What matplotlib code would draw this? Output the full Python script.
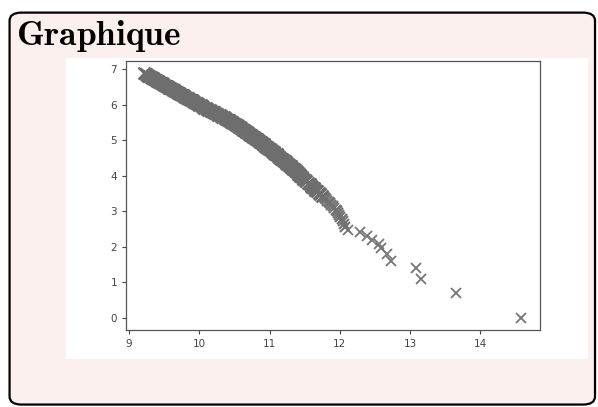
import matplotlib
matplotlib.use("Agg")
import matplotlib.pyplot as plt
from matplotlib.patches import FancyBboxPatch, Rectangle

plt.rcParams['mathtext.fontset'] = 'cm'

# values (y looks like ln(rank), x the sorted value)
x_tail = [14.58, 13.66, 13.15, 13.08, 12.73, 12.67, 12.58, 12.56, 12.46, 12.39, 12.29, 12.11]
y_tail = [0.00, 0.69, 1.10, 1.39, 1.61, 1.79, 1.95, 2.08, 2.20, 2.30, 2.40, 2.48]

x_mid = [12.08, 12.06, 12.05, 12.03, 12.01, 11.99, 11.97, 11.96, 11.94, 11.92,
         11.90, 11.88, 11.86, 11.84, 11.82, 11.81, 11.79, 11.77]
y_mid = [2.56, 2.64, 2.71, 2.77, 2.83, 2.89, 2.94, 3.00, 3.04, 3.09,
         3.14, 3.18, 3.22, 3.26, 3.30, 3.33, 3.37, 3.40]

x_dense = [11.75, 11.72, 11.70, 11.67, 11.65, 11.63, 11.61, 11.59, 11.57, 11.545,
           11.52, 11.50, 11.48, 11.46, 11.44, 11.42, 11.40, 11.38, 11.36, 11.33,
           11.31, 11.29, 11.26, 11.24, 11.22, 11.19, 11.17, 11.14, 11.12, 11.10,
           11.07, 11.045, 11.02, 10.995, 10.97, 10.94, 10.915, 10.89, 10.86, 10.83,
           10.81, 10.78, 10.75, 10.72, 10.69, 10.665, 10.64, 10.61, 10.58, 10.55,
           10.52, 10.485, 10.45, 10.42, 10.385, 10.35, 10.31, 10.27, 10.23, 10.19,
           10.15, 10.11, 10.07, 10.04, 10.00, 9.965, 9.93, 9.895, 9.86, 9.82,
           9.785, 9.75, 9.715, 9.68, 9.64, 9.61, 9.57, 9.54, 9.50, 9.47,
           9.43, 9.40, 9.36, 9.33, 9.29, 9.26, 9.22]
y_dense = [3.44, 3.48, 3.52, 3.56, 3.60, 3.64, 3.68, 3.72, 3.76, 3.80,
           3.84, 3.88, 3.92, 3.96, 4.00, 4.04, 4.08, 4.12, 4.16, 4.20,
           4.24, 4.28, 4.32, 4.36, 4.40, 4.44, 4.48, 4.52, 4.56, 4.60,
           4.64, 4.68, 4.72, 4.76, 4.80, 4.84, 4.88, 4.92, 4.96, 5.00,
           5.04, 5.08, 5.12, 5.16, 5.20, 5.24, 5.28, 5.32, 5.36, 5.40,
           5.44, 5.48, 5.52, 5.56, 5.60, 5.64, 5.68, 5.72, 5.76, 5.80,
           5.84, 5.88, 5.92, 5.96, 6.00, 6.04, 6.08, 6.12, 6.16, 6.20,
           6.24, 6.28, 6.32, 6.36, 6.40, 6.44, 6.48, 6.52, 6.56, 6.60,
           6.64, 6.68, 6.72, 6.76, 6.80, 6.84, 6.88]

# second pass of readings in between the first ones (the band gets very dense above y=4)
x_dense2 = [11.43, 11.41, 11.39, 11.37, 11.345, 11.32,
            11.30, 11.275, 11.25, 11.23, 11.205, 11.18, 11.155, 11.13, 11.11, 11.085,
            11.057, 11.032, 11.007, 10.982, 10.955, 10.927, 10.902, 10.875, 10.845, 10.82,
            10.795, 10.765, 10.735, 10.705, 10.677, 10.652, 10.625, 10.595, 10.565, 10.535,
            10.502, 10.467, 10.435, 10.402, 10.367, 10.33, 10.29, 10.25, 10.21, 10.17,
            10.13, 10.09, 10.055, 10.02, 9.982, 9.947, 9.912, 9.877, 9.84, 9.802,
            9.767, 9.732, 9.697, 9.66, 9.625, 9.59, 9.555, 9.52, 9.485, 9.45,
            9.415, 9.38, 9.345, 9.31, 9.275, 9.24]
y_dense2 = [4.02, 4.06, 4.10, 4.14, 4.18, 4.22,
            4.26, 4.30, 4.34, 4.38, 4.42, 4.46, 4.50, 4.54, 4.58, 4.62,
            4.66, 4.70, 4.74, 4.78, 4.82, 4.86, 4.90, 4.94, 4.98, 5.02,
            5.06, 5.10, 5.14, 5.18, 5.22, 5.26, 5.30, 5.34, 5.38, 5.42,
            5.46, 5.50, 5.54, 5.58, 5.62, 5.66, 5.70, 5.74, 5.78, 5.82,
            5.86, 5.90, 5.94, 5.98, 6.02, 6.06, 6.10, 6.14, 6.18, 6.22,
            6.26, 6.30, 6.34, 6.38, 6.42, 6.46, 6.50, 6.54, 6.58, 6.62,
            6.66, 6.70, 6.74, 6.78, 6.82, 6.86]

fig = plt.figure(figsize=(5.98, 4.07), dpi=100)
fig.patch.set_facecolor("white")

# pink framed box
box = FancyBboxPatch((0.016, 0.006), 0.979, 0.963,
                     boxstyle="round,pad=0,rounding_size=0.02",
                     transform=fig.transFigure, facecolor="#fcf0ee",
                     edgecolor="black", linewidth=1.6, zorder=0)
fig.patches.append(box)
# white image area
fig.patches.append(Rectangle((0.1104, 0.1179), 0.8729, 0.7396,
                             transform=fig.transFigure, facecolor="white",
                             edgecolor="none", zorder=1))

fig.text(0.026, 0.889, r"$\mathbf{Graphique}$", fontsize=25.5, color="black",
         va="baseline")

ax = fig.add_axes([0.2107, 0.1892, 0.6923, 0.6609])
ax.set_zorder(2)
ax.plot(x_tail, y_tail, "x", color="#767676", markersize=6.5, markeredgewidth=1.3)
ax.plot(x_mid, y_mid, "x", color="#727272", markersize=7.5, markeredgewidth=1.5)
ax.plot(x_dense + x_dense2, y_dense + y_dense2, "x", color="#6e6e6e",
        markersize=8.5, markeredgewidth=1.8)

ax.set_xlim(8.957, 14.85)
ax.set_ylim(-0.346, 7.23)
ax.set_xticks([9, 10, 11, 12, 13, 14])
ax.set_yticks([0, 1, 2, 3, 4, 5, 6, 7])
ax.tick_params(labelsize=7.5, colors="#444444", length=3, width=0.8)
for s in ax.spines.values():
    s.set_color("#555555")
    s.set_linewidth(0.9)

fig.savefig("out.png", dpi=100)
